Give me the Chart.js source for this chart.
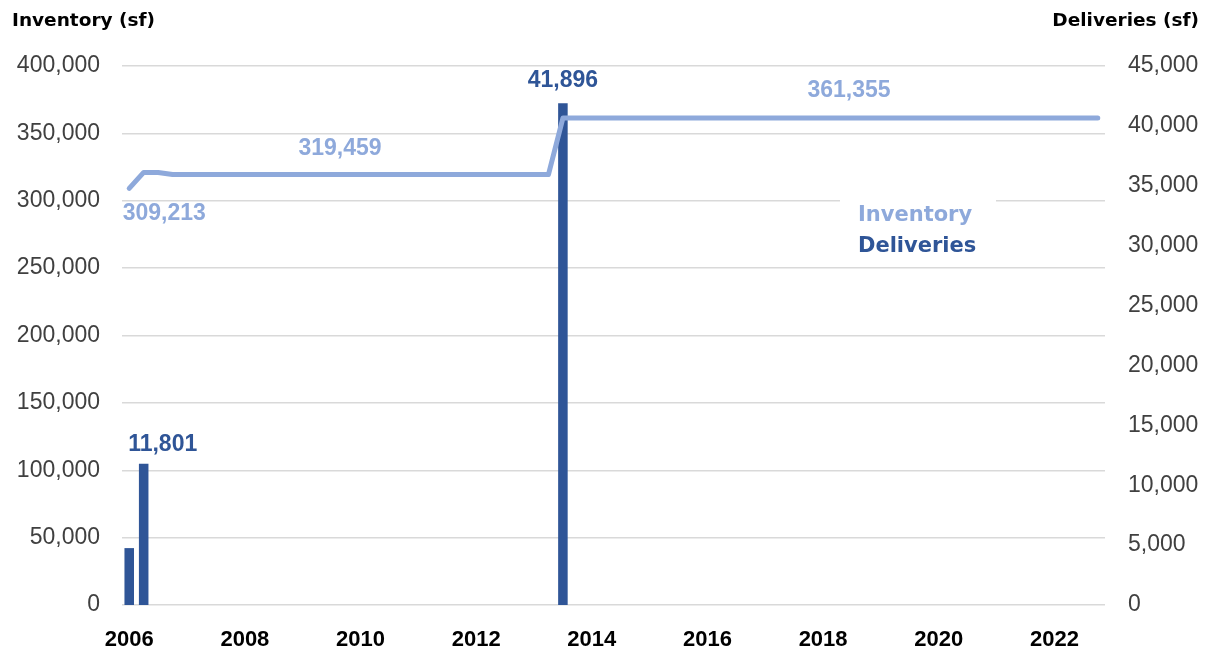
<!DOCTYPE html>
<html>
<head>
<meta charset="utf-8">
<script src="https://cdn.jsdelivr.net/npm/chart.js@4/dist/chart.umd.min.js"></script>
<style>
  html, body { margin: 0; padding: 0; background: #fff; }
  #wrap { width: 1210px; height: 654px; position: relative; }
</style>
</head>
<body>
<div id="wrap"><canvas id="c"></canvas></div>
<script>
// ---- Data ----
const quarters = [
  '2006Q1','2006Q2','2006Q3','2006Q4','2007Q1','2007Q2','2007Q3','2007Q4',
  '2008Q1','2008Q2','2008Q3','2008Q4','2009Q1','2009Q2','2009Q3','2009Q4',
  '2010Q1','2010Q2','2010Q3','2010Q4','2011Q1','2011Q2','2011Q3','2011Q4',
  '2012Q1','2012Q2','2012Q3','2012Q4','2013Q1','2013Q2','2013Q3','2013Q4',
  '2014Q1','2014Q2','2014Q3','2014Q4','2015Q1','2015Q2','2015Q3','2015Q4',
  '2016Q1','2016Q2','2016Q3','2016Q4','2017Q1','2017Q2','2017Q3','2017Q4',
  '2018Q1','2018Q2','2018Q3','2018Q4','2019Q1','2019Q2','2019Q3','2019Q4',
  '2020Q1','2020Q2','2020Q3','2020Q4','2021Q1','2021Q2','2021Q3','2021Q4',
  '2022Q1','2022Q2','2022Q3','2022Q4'
];
const yearTickLabels = ['2006','2008','2010','2012','2014','2016','2018','2020','2022'];

const inventory = [
  309213, 321014, 321014, 319459, 319459, 319459, 319459, 319459,
  319459, 319459, 319459, 319459, 319459, 319459, 319459, 319459,
  319459, 319459, 319459, 319459, 319459, 319459, 319459, 319459,
  319459, 319459, 319459, 319459, 319459, 319459, 361355, 361355,
  361355, 361355, 361355, 361355, 361355, 361355, 361355, 361355,
  361355, 361355, 361355, 361355, 361355, 361355, 361355, 361355,
  361355, 361355, 361355, 361355, 361355, 361355, 361355, 361355,
  361355, 361355, 361355, 361355, 361355, 361355, 361355, 361355,
  361355, 361355, 361355, 361355
];
const deliveries = [
  4750, 11801, 0, 0, 0, 0, 0, 0,
  0, 0, 0, 0, 0, 0, 0, 0,
  0, 0, 0, 0, 0, 0, 0, 0,
  0, 0, 0, 0, 0, 0, 41896, 0,
  0, 0, 0, 0, 0, 0, 0, 0,
  0, 0, 0, 0, 0, 0, 0, 0,
  0, 0, 0, 0, 0, 0, 0, 0,
  0, 0, 0, 0, 0, 0, 0, 0,
  0, 0, 0, 0
];

// ---- Style ----
const INV_COLOR = '#8EA9DB';
const DEL_COLOR = '#2F5597';
const fmt = v => Number(v).toLocaleString('en-US');

// Data labels: which point, and offset from it
const pointLabels = [
  { ds: 0, i: 0,  dx: 35, dy: 25 },
  { ds: 0, i: 15, dx: -6, dy: -26 },
  { ds: 0, i: 50, dx: -3, dy: -27 },
  { ds: 1, i: 1,  dx: 19, dy: -19 },
  { ds: 1, i: 30, dx: 0,  dy: -23 }
];

const overlayPlugin = {
  id: 'overlay',
  beforeDatasetsDraw(chart) {
    const ctx = chart.ctx;
    ctx.save();
    ctx.fillStyle = '#fff';
    ctx.fillRect(840, 194, 156, 68);
    ctx.restore();
  },
  afterDatasetsDraw(chart) {
    const ctx = chart.ctx;
    ctx.save();
    // data labels
    ctx.font = 'bold 23px "Liberation Sans", Arial, sans-serif';
    ctx.textAlign = 'center';
    ctx.textBaseline = 'middle';
    pointLabels.forEach(l => {
      const meta = chart.getDatasetMeta(l.ds);
      const el = meta.data[l.i];
      const val = chart.data.datasets[l.ds].data[l.i];
      ctx.fillStyle = l.ds === 0 ? INV_COLOR : DEL_COLOR;
      ctx.fillText(fmt(val), el.x + l.dx, el.y + l.dy);
    });
    // legend
    ctx.font = 'bold 21px "DejaVu Sans", sans-serif';
    ctx.textAlign = 'left';
    ctx.fillStyle = INV_COLOR;
    ctx.fillText(chart.data.datasets[0].label, 858, 216);
    ctx.fillStyle = DEL_COLOR;
    ctx.fillText(chart.data.datasets[1].label, 858, 247);
    // axis titles
    ctx.fillStyle = '#000';
    ctx.font = 'bold 18.5px "DejaVu Sans", sans-serif';
    ctx.textAlign = 'left';
    ctx.fillText('Inventory (sf)', 12, 21);
    ctx.textAlign = 'right';
    ctx.fillText('Deliveries (sf)', 1199, 21);
    ctx.restore();
  }
};

const tickFont = { family: '"Liberation Sans", Arial, sans-serif', size: 23 };

new Chart(document.getElementById('c'), {
  type: 'bar',
  data: {
    labels: quarters,
    datasets: [
      {
        type: 'line',
        label: 'Inventory',
        data: inventory,
        yAxisID: 'y',
        borderColor: INV_COLOR,
        backgroundColor: INV_COLOR,
        borderWidth: 5,
        pointRadius: 0,
        tension: 0,
        borderCapStyle: 'round',
        borderJoinStyle: 'round',
        order: 0
      },
      {
        type: 'bar',
        label: 'Deliveries',
        data: deliveries,
        yAxisID: 'y1',
        backgroundColor: DEL_COLOR,
        barPercentage: 0.66,
        categoryPercentage: 1.0,
        order: 1
      }
    ]
  },
  options: {
    responsive: true,
    maintainAspectRatio: false,
    animation: false,
    layout: { padding: { top: 66, right: 0, bottom: 0, left: 0 } },
    plugins: {
      legend: { display: false },
      tooltip: { enabled: false }
    },
    scales: {
      x: {
        offset: true,
        grid: { display: false },
        border: { display: false },
        ticks: {
          autoSkip: false,
          maxRotation: 0,
          minRotation: 0,
          padding: 14,
          color: '#000',
          font: { family: '"Liberation Sans", Arial, sans-serif', size: 22, weight: 'bold' },
          callback: function (v, i) {
            const lbl = this.getLabelForValue(v);
            const yr = lbl.slice(0, 4);
            return (lbl.endsWith('Q1') && yearTickLabels.includes(yr)) ? yr : '';
          }
        },
        afterFit(scale) { scale.height = 49; }
      },
      y: {
        position: 'left',
        min: 0,
        max: 400000,
        grid: { color: '#D9D9D9', lineWidth: 1.5, drawTicks: false },
        border: { display: false },
        ticks: {
          stepSize: 50000,
          padding: 22,
          color: '#404040',
          font: tickFont,
          callback: v => fmt(v)
        },
        afterFit(scale) { scale.width = 122; }
      },
      y1: {
        position: 'right',
        min: 0,
        max: 45000,
        grid: { display: false, drawTicks: false },
        border: { display: false },
        ticks: {
          stepSize: 5000,
          padding: 23,
          color: '#404040',
          font: tickFont,
          callback: v => fmt(v)
        },
        afterFit(scale) { scale.width = 105; }
      }
    }
  },
  plugins: [overlayPlugin]
});
</script>
</body>
</html>
